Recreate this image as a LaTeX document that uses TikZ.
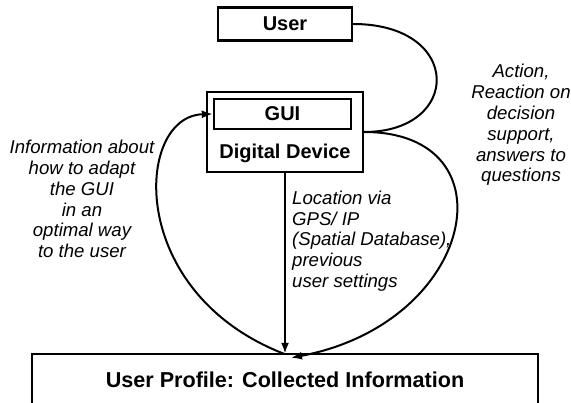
\documentclass[tikz,border=0pt]{standalone}
\usepackage{fontspec}
\setmainfont{Liberation Sans}
\usepackage{tikz}
\usetikzlibrary{positioning,arrows.meta}

\begin{document}
\begin{tikzpicture}[
        x=1pt, y=-1pt,
        box/.style={
            rectangle, line width=2.4pt, draw = black, font = \fontsize{20}{22}\selectfont\bfseries, inner sep=0pt
        },
        note/.style={
            font = \fontsize{18.6}{20.8}\selectfont\itshape, inner sep=0pt
        },
        link/.style={
            line width=2pt, -{Latex[length=11pt,width=8pt]}
        },
    ]
        \useasboundingbox (0,0) rectangle (571,403);

        \node (user) [box,minimum width=134pt,minimum height=33pt] at (285,24) {User};

        \node (device) [box,minimum width=156pt,minimum height=80pt] at (285,132) {};
        \node (gui) [box,minimum width=137pt,minimum height=30pt] at (282.5,114) {GUI};
        \node (deviceName) [font=\fontsize{20}{22}\selectfont\bfseries] at (285,153) {Digital Device};

        \node (profile) [box,minimum width=506pt,minimum height=52pt,font=\fontsize{21.6}{24}\selectfont\bfseries] at (285,380) {User Profile: Collected Information};

        % user action goes into the device
        \draw[line width=2pt] (user.east) .. controls +(110,0) and +(98,0) .. (device.east);
        \node (actionNote) [note,align=center] at (521,125) {Action,\\Reaction on\\decision\\support,\\answers to\\questions};

        % collected information
        \draw[link] (device.east) .. controls +(150,0) and +(185,-35) .. ([xshift=6pt,yshift=-5pt]profile.north);
        \path (device.south) edge[link] ([yshift=-1pt]profile.north);
        \node (locationNote) [note,align=left,anchor=west] at (292,241) {Location via\\GPS/ IP\\(Spatial Database),\\previous\\user settings};

        % adapting the GUI
        \draw[link] ([xshift=-1pt,yshift=-1pt]profile.north) .. controls (125,292) and (135,116) .. (gui.west);
        \node (adaptNote) [note,align=center] at (82,199) {Information about\\how to adapt\\the GUI\\in an\\optimal way\\to the user};

    \end{tikzpicture}
\end{document}
